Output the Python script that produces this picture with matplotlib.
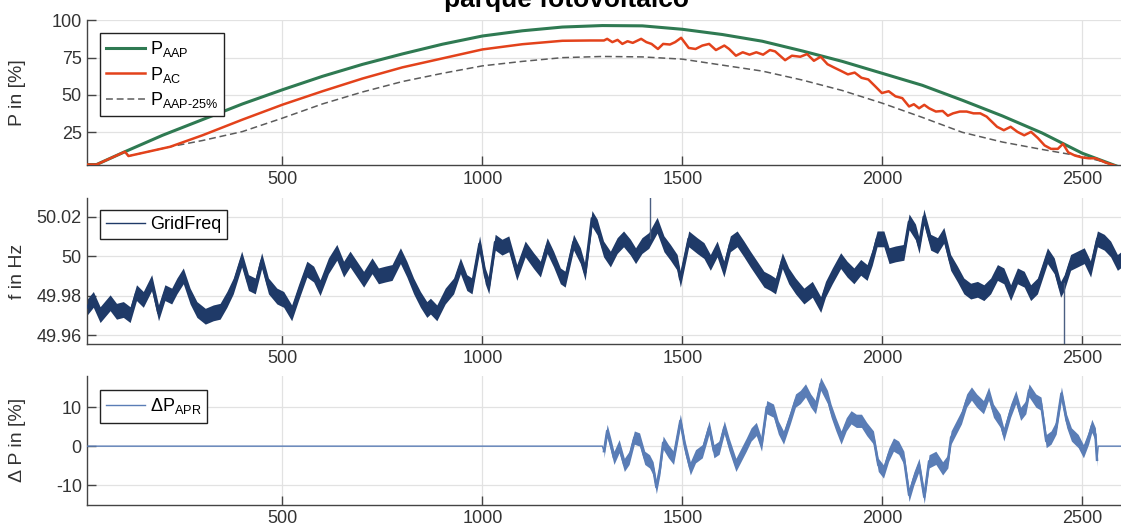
import numpy as np
import matplotlib
matplotlib.use("Agg")
import matplotlib.pyplot as plt

plt.rcParams['font.family'] = ['Liberation Sans', 'DejaVu Sans']
plt.rcParams['mathtext.default'] = 'regular'

# ---- top panel: power curves ----
aap_x = [12, 35, 106, 200, 300, 400, 500, 600, 700, 800, 900, 1000, 1100, 1200, 1300,
         1400, 1500, 1600, 1700, 1800, 1900, 2000, 2100, 2200, 2300, 2400, 2500, 2596]
aap_y = [3.4, 3.4, 12.0, 23, 33.5, 44, 53.5, 62.5, 70.5, 77.5, 84, 89.5, 93, 95.5, 96.5,
         96.3, 94, 90.5, 86, 79.5, 72.5, 64.5, 56.5, 46.5, 36, 24.5, 11, 1.4]

aap25_x = [12, 35, 106, 115, 219, 300, 400, 500, 600, 700, 800, 900, 1000, 1100, 1200, 1300,
           1400, 1500, 1600, 1700, 1800, 1900, 2000, 2100, 2200, 2300, 2400, 2500, 2550, 2596]
aap25_y = [3.4, 3.4, 12.0, 9.1, 15.3, 19.5, 25.5, 34.5, 44, 52, 59, 64.5, 69.5, 72.5, 75, 75.8,
           75.5, 74, 70, 66, 60, 53, 44.5, 35, 25, 18.5, 13.5, 8.8, 5.5, 1.4]

ac_x = [12, 35, 106, 115, 219, 300, 400, 500, 600, 700, 800, 900, 1000, 1100, 1200, 1270, 1304,
        1312, 1325, 1338, 1350, 1363, 1376, 1397, 1410, 1423, 1439, 1452, 1469, 1482, 1497,
        1516, 1533, 1550, 1567, 1584, 1605, 1617, 1634, 1651, 1668, 1685, 1702, 1719, 1732,
        1757, 1774, 1795, 1812, 1829, 1846, 1863, 1880, 1897, 1914, 1931, 1948, 1965, 1982,
        1999, 2016, 2033, 2050, 2067, 2079, 2092, 2105, 2117, 2134, 2151, 2164, 2177, 2194,
        2211, 2228, 2245, 2261, 2274, 2287, 2304, 2321, 2338, 2355, 2372, 2389, 2406, 2422,
        2439, 2452, 2465, 2482, 2499, 2516, 2533, 2558, 2596]
ac_y = [3.4, 3.4, 12.0, 9.1, 15.3, 23, 33.5, 43.5, 52.5, 61, 68.5, 74.5, 80.5, 84, 86.3, 86.5, 86.5,
        87.6, 85.4, 86.9, 84.2, 86.0, 84.9, 87.6, 85.4, 84.2, 80.8, 84.2, 83.8, 85.4, 88.3,
        81.5, 80.8, 83.1, 84.2, 80.1, 83.1, 80.8, 76.3, 78.6, 77.0, 78.6, 77.0, 80.1, 79.2,
        73.3, 76.3, 75.6, 77.4, 72.9, 75.6, 70.6, 68.3, 66.1, 63.8, 65.0, 61.5, 60.4, 55.9,
        51.3, 52.5, 49.1, 47.9, 42.3, 43.8, 41.1, 43.4, 41.1, 38.9, 39.3, 36.1, 37.7, 38.9,
        38.9, 37.7, 37.7, 35.5, 32.1, 28.7, 26.4, 28.7, 25.3, 23.0, 25.3, 21.2, 16.2, 13.9,
        13.9, 17.3, 11.6, 9.4, 8.2, 7.6, 7.6, 4.8, 1.4]

# ---- middle panel: grid frequency (band centre) ----
freq_x = [10, 27, 44, 69, 85, 102, 119, 135, 152, 173, 190, 206, 223, 236, 252, 269, 286, 307,
          327, 344, 361, 377, 398, 415, 432, 448, 465, 486, 503, 523, 540, 561, 578, 594, 615,
          636, 653, 669, 686, 703, 724, 740, 757, 774, 795, 811, 828, 845, 861, 870, 886, 907,
          928, 945, 961, 974, 993, 1007, 1016, 1032, 1049, 1066, 1086, 1107, 1128, 1145, 1162,
          1178, 1195, 1207, 1228, 1245, 1257, 1274, 1287, 1303, 1320, 1337, 1353, 1370, 1383,
          1399, 1416, 1437, 1454, 1470, 1487, 1495, 1516, 1537, 1554, 1570, 1587, 1604, 1620,
          1637, 1654, 1670, 1687, 1704, 1720, 1733, 1750, 1766, 1783, 1804, 1825, 1846, 1858,
          1875, 1896, 1912, 1929, 1946, 1962, 1975, 1987, 2004, 2017, 2033, 2054, 2067, 2083,
          2092, 2104, 2121, 2138, 2154, 2171, 2188, 2204, 2221, 2238, 2254, 2271, 2288, 2304,
          2321, 2338, 2355, 2371, 2388, 2413, 2430, 2446, 2455, 2471, 2488, 2505, 2521, 2538,
          2555, 2571, 2588, 2599]
freq_hz = [49.9739, 49.9782, 49.9705, 49.9765, 49.9722, 49.9731, 49.9705, 49.9816, 49.9782,
           49.9867, 49.9714, 49.9816, 49.9799, 49.9850, 49.9901, 49.9799, 49.9731, 49.9697,
           49.9714, 49.9722, 49.9782, 49.9850, 49.9986, 49.9867, 49.9850, 49.9978, 49.9850,
           49.9799, 49.9782, 49.9714, 49.9816, 49.9935, 49.9910, 49.9841, 49.9952, 50.0020,
           49.9935, 49.9986, 49.9935, 49.9884, 49.9952, 49.9901, 49.9910, 49.9918, 50.0003,
           49.9935, 49.9850, 49.9782, 49.9731, 49.9748, 49.9714, 49.9799, 49.9850, 49.9952,
           49.9867, 49.9850, 50.0063, 49.9901, 49.9850, 50.0071, 50.0046, 50.0063, 49.9918,
           50.0037, 49.9978, 49.9935, 50.0054, 49.9986, 49.9901, 49.9884, 50.0071, 50.0003,
           49.9918, 50.0191, 50.0148, 50.0037, 49.9986, 50.0054, 50.0088, 50.0046, 50.0003,
           50.0054, 50.0080, 50.0157, 50.0063, 50.0020, 49.9969, 49.9884, 50.0088, 50.0054,
           50.0029, 49.9969, 50.0037, 49.9935, 50.0063, 50.0088, 50.0037, 49.9986, 49.9935,
           49.9884, 49.9867, 49.9850, 49.9978, 49.9901, 49.9850, 49.9799, 49.9833, 49.9756,
           49.9833, 49.9901, 49.9978, 49.9935, 49.9901, 49.9944, 49.9918, 49.9995, 50.0088,
           50.0088, 50.0003, 50.0012, 50.0020, 50.0174, 50.0123, 50.0054, 50.0199, 50.0071,
           50.0054, 50.0106, 49.9969, 49.9910, 49.9850, 49.9824, 49.9833, 49.9816, 49.9850,
           49.9918, 49.9901, 49.9816, 49.9901, 49.9884, 49.9816, 49.9850, 50.0003, 49.9952,
           49.9833, 49.9867, 49.9969, 49.9986, 50.0003, 49.9935, 50.0088, 50.0071, 50.0037,
           49.9969, 49.9986]
# isolated single-sample spikes
spike_x = [1420, 2455]
spike_hz = [50.0300, 49.9555]

# ---- bottom panel: APR power deviation ----
apr_x = [12, 1300, 1304, 1312, 1321, 1329, 1342, 1355, 1367, 1380, 1393, 1406, 1418, 1427,
         1435, 1444, 1452, 1465, 1478, 1495, 1507, 1520, 1533, 1550, 1567, 1579, 1592, 1605,
         1617, 1634, 1647, 1660, 1672, 1685, 1698, 1711, 1728, 1740, 1753, 1770, 1783, 1795,
         1808, 1821, 1833, 1846, 1863, 1872, 1884, 1897, 1910, 1922, 1935, 1948, 1961, 1978,
         1990, 2003, 2016, 2028, 2041, 2054, 2067, 2079, 2092, 2105, 2117, 2134, 2151, 2164,
         2172, 2185, 2198, 2211, 2223, 2236, 2253, 2266, 2278, 2295, 2304, 2321, 2334, 2346,
         2359, 2367, 2384, 2397, 2410, 2422, 2435, 2448, 2461, 2473, 2490, 2503, 2516, 2524,
         2533, 2537, 2540, 2597]
apr_y = [0, 0, -1.3, 3.9, 0.4, -3.0, 0.0, -4.8, -3.0, 2.2, 1.7, -3.0, -3.9, -5.7,
         -10.5, -5.7, 0.9, -1.3, -3.0, 6.5, -0.4, -5.7, -2.6, -1.3, 4.8, -1.3, -0.4, 4.8,
         0.4, -4.8, -2.2, 0.4, 3.0, 4.4, 0.4, 10.0, 9.1, 4.8, 2.2, 7.4, 11.7, 12.6,
         14.3, 11.7, 10.0, 16.0, 12.6, 9.1, 5.6, 2.2, 5.6, 7.4, 6.5, 6.5, 4.4, 2.2,
         -4.8, -6.5, -2.2, 0.4, -0.4, -3.0, -12.5, -8.3, -4.8, -13.0, -3.9, -3.0, -5.7, -3.9,
         2.2, 4.8, 7.4, 11.7, 13.5, 11.7, 10.0, 13.5, 9.1, 6.5, 3.0, 9.1, 12.6, 8.3,
         10.0, 14.3, 11.7, 10.9, 1.3, 2.2, 4.8, 13.5, 6.5, 3.0, 1.3, -1.3, 2.2, 5.2,
         3.0, -3.5, 0, 0]
apr_start, apr_end = 1304, 2537

x_ticks = [500, 1000, 1500, 2000, 2500]

# ---- colours / style ----
c_aap = '#2f7a52'
c_ac = '#e3421b'
c_dash = '#5c5c5c'
c_freq = '#1f3a68'
c_apr = '#5a7db6'
c_axis = '#444444'
freq_band = 0.0040
apr_band = 1.7


def style_axes(ax, yticks, ylabels, ylim, ylabel):
    ax.set_xlim(12, 2597)
    ax.set_ylim(*ylim)
    ax.set_xticks(x_ticks)
    ax.set_xticklabels([str(t) for t in x_ticks])
    ax.set_yticks(yticks)
    ax.set_yticklabels(ylabels)
    ax.grid(True, color='#e2e2e2', linewidth=0.9)
    ax.set_axisbelow(True)
    for s in ['top', 'right']:
        ax.spines[s].set_visible(False)
    for s in ['left', 'bottom']:
        ax.spines[s].set_color(c_axis)
        ax.spines[s].set_linewidth(1.0)
    ax.tick_params(direction='in', length=6.5, width=1.0, colors=c_axis,
                   labelsize=13, labelcolor='#333333')
    ax.tick_params(axis='x', pad=4)
    ax.tick_params(axis='y', pad=4)
    ax.set_ylabel(ylabel, fontsize=14, color='#333333')
    ax.yaxis.set_label_coords(-0.059, 0.5)


def add_legend(ax, anchor):
    leg = ax.legend(loc='upper left', bbox_to_anchor=anchor, borderaxespad=0,
                    fontsize=13, frameon=True, fancybox=False, framealpha=1,
                    edgecolor='#222222', handlelength=2.15, handletextpad=0.25,
                    borderpad=0.35, labelspacing=0.3)
    leg.get_frame().set_linewidth(1.0)
    leg.set_zorder(10)
    return leg


fig = plt.figure(figsize=(11.21, 5.28), dpi=100)
ax1 = fig.add_axes([0.0779, 0.6875, 0.9221, 0.274])
ax2 = fig.add_axes([0.0779, 0.3479, 0.9221, 0.2765])
ax3 = fig.add_axes([0.0779, 0.0439, 0.9221, 0.244])

# top
ax1.plot(aap_x, aap_y, color=c_aap, linewidth=2.2, label='P$_{AAP}$', zorder=3)
ax1.plot(ac_x, ac_y, color=c_ac, linewidth=1.8, label='P$_{AC}$', zorder=4)
ax1.plot(aap25_x, aap25_y, color=c_dash, linewidth=1.1, linestyle=(0, (4.5, 2.5)),
         label='P$_{AAP\u201025\\%}$', zorder=2)
style_axes(ax1, [25, 50, 75, 100], ['25', '50', '75', '100'], (3.1, 100), 'P in [%]')
add_legend(ax1, (0.0123, 0.914))

# middle
fx = np.array(freq_x)
fy = np.array(freq_hz)
ax2.fill_between(fx, fy - freq_band, fy + freq_band, color=c_freq, linewidth=0, zorder=2)
line_f, = ax2.plot(fx, fy, color=c_freq, linewidth=2.0, zorder=3)
for sx, sy in zip(spike_x, spike_hz):
    base = np.interp(sx, fx, fy)
    ax2.plot([sx, sx], [base, sy], color='#4b5f82', linewidth=1.0, zorder=3)
ax2.plot([], [], color=c_freq, linewidth=1.0, label='GridFreq')
style_axes(ax2, [49.96, 49.98, 50.0, 50.02], ['49.96', '49.98', '50', '50.02'],
           (49.9555, 50.0293), 'f in Hz')
add_legend(ax2, (0.0123, 0.921))

# bottom
axp = np.array(apr_x)
ayp = np.array(apr_y)
active = (axp >= apr_start) & (axp <= apr_end)
ax3.plot(axp, ayp, color=c_apr, linewidth=1.0, zorder=3)
ax3.plot(axp[active], ayp[active], color=c_apr, linewidth=1.8, zorder=3)
ax3.fill_between(axp[active], ayp[active] - apr_band, ayp[active] + apr_band,
                 color=c_apr, linewidth=0, zorder=2)
ax3.plot([], [], color=c_apr, linewidth=1.0, label='\u0394P$_{APR}$')
style_axes(ax3, [-10, 0, 10], ['-10', '0', '10'], (-15.05, 18.0), '\u0394 P in [%]')
add_legend(ax3, (0.0123, 0.891))

fig.text(0.505, 1 - 7 / 528, 'parque fotovoltaico', ha='center', va='baseline',
         fontsize=19, fontweight='bold', color='black')

fig.savefig('out.png', dpi=100)
